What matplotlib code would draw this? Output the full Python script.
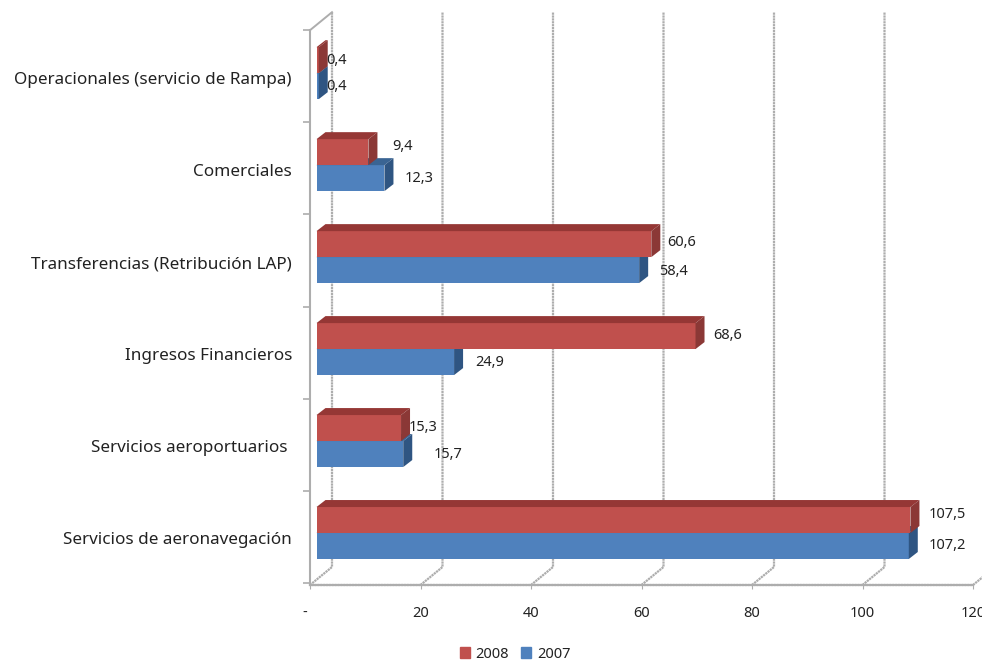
import matplotlib
matplotlib.use("Agg")
import matplotlib.pyplot as plt
from matplotlib.patches import Polygon, Patch
from matplotlib.transforms import Affine2D

plt.rcParams['font.family'] = ['Noto Sans', 'DejaVu Sans']

categorias = ['Servicios de aeronavegación', 'Servicios aeroportuarios ', 'Ingresos Financieros',
              'Transferencias (Retribución LAP)', 'Comerciales', 'Operacionales (servicio de Rampa)']
v2008 = [107.5, 15.3, 68.6, 60.6, 9.4, 0.4]
v2007 = [107.2, 15.7, 24.9, 58.4, 12.3, 0.4]
etiq2008 = ['107,5', '15,3', '68,6', '60,6', '9,4', '0,4']
etiq2007 = ['107,2', '15,7', '24,9', '58,4', '12,3', '0,4']
xticks = [0, 20, 40, 60, 80, 100, 120]
xlabels = ['-', '20', '40', '60', '80', '100', '120']

# separacion de las etiquetas respecto al final de la barra (px)
off2008 = [(18, 6), (8, 1), (18, 1), (16, 2), (24, 6), (8, 0)]
off2007 = [(20, 1), (30, 0), (21, 0), (20, -1), (20, 0), (8, 0)]

W, H = 982, 660
x0, x1 = 310, 973      # plano frontal, pixeles
ybot, ytop = 585, 30
ppu = (x1 - x0) / 120.0
ppc = 92.0             # pixeles por categoria
y_ini = -(585 - 533) / ppc
y_fin = y_ini + (ybot - ytop) / ppc

fig = plt.figure(figsize=(W / 100, H / 100), dpi=100)
ax = fig.add_axes([x0 / W, 1 - ybot / H, (x1 - x0) / W, (ybot - ytop) / H])
ax.set_xlim(0, 120)
ax.set_ylim(y_ini, y_fin)

gris = '#adadad'
punteado = (0, (1.0, 0.3))
pared_x = 22 / ppu
pared_y = 18 / ppc
# paredes y rejilla 3D
for t in xticks:
    ax.plot([t, t + pared_x, t + pared_x], [y_ini, y_ini + pared_y, y_fin + pared_y],
            color=gris, lw=1.6, ls=punteado, clip_on=False, zorder=1)
ax.plot([0, pared_x], [y_fin, y_fin + pared_y], color=gris, lw=1.4, clip_on=False, zorder=1)

inicio = 6.5 / ppu
alto = 26 / ppc
prof_x = 9 / ppu
prof_y = 7 / ppc


def barra(val, abajo, c_frente, c_arriba, c_lado):
    der = inicio + val
    arriba = abajo + alto
    ax.barh(abajo, val, height=alto, left=inicio, align='edge', color=c_frente, zorder=3)
    ax.add_patch(Polygon([(inicio, arriba), (inicio + prof_x, arriba + prof_y),
                          (der + prof_x, arriba + prof_y), (der, arriba)],
                         color=c_arriba, lw=0, zorder=3, clip_on=False))
    ax.add_patch(Polygon([(der, abajo), (der + prof_x, abajo + prof_y),
                          (der + prof_x, arriba + prof_y), (der, arriba)],
                         color=c_lado, lw=0, zorder=3, clip_on=False))


for i in range(len(categorias)):
    barra(v2007[i], i - alto, '#4f81bd', '#3a6493', '#2f5582')
    barra(v2008[i], i, '#c0504d', '#953735', '#8b3836')
    ax.annotate(etiq2008[i], (inicio + v2008[i], i + alto / 2), xytext=off2008[i],
                textcoords='offset pixels', fontsize=10.5, va='center', color='#222222', zorder=5)
    ax.annotate(etiq2007[i], (inicio + v2007[i], i - alto / 2), xytext=off2007[i],
                textcoords='offset pixels', fontsize=10.5, va='center', color='#222222', zorder=5)

for s in ['top', 'right']:
    ax.spines[s].set_visible(False)
ax.spines['left'].set_color(gris)
ax.spines['left'].set_linewidth(1.5)
ax.spines['bottom'].set_color(gris)
ax.spines['bottom'].set_linewidth(1.6)
ax.spines['bottom'].set_linestyle(punteado)

ax.set_xticks(xticks)
ax.set_xticklabels(xlabels, fontsize=10.5, color='#222222')
ax.tick_params(axis='x', length=3, color=gris, pad=12)
guion = ax.get_xticklabels()[0]
guion.set_transform(guion.get_transform() + Affine2D().translate(-5, 0))

# etiquetas de categoria y marcas en los limites
ax.set_yticks([i - 5 / ppc for i in range(len(categorias))])
ax.set_yticklabels(categorias, fontsize=12.3, color='#222222')
ax.tick_params(axis='y', which='major', length=0, pad=13)
ax.set_yticks([y_ini + 2 / ppc + k * 92.2 / ppc for k in range(7)], minor=True)
ax.tick_params(axis='y', which='minor', length=5, color=gris, width=1.2)

fig.legend(handles=[Patch(color='#c0504d', label='2008'), Patch(color='#4f81bd', label='2007')],
           loc='center', bbox_to_anchor=(515 / W, 1 - 654 / H), ncol=2, frameon=False,
           fontsize=10.5, handlelength=0.7, handleheight=0.7, handletextpad=0.4, columnspacing=0.8,
           labelcolor='#222222', borderpad=0)

fig.savefig('out.png', dpi=100)
